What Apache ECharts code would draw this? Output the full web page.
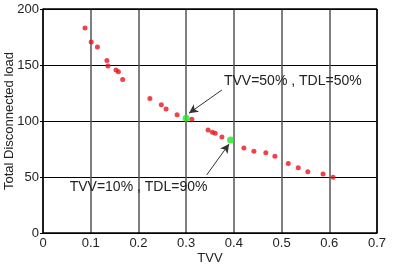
<!DOCTYPE html>
<html>
<head>
<meta charset="utf-8">
<script src="https://cdn.jsdelivr.net/npm/echarts@6/dist/echarts.min.js"></script>
<style>
  html, body { margin: 0; padding: 0; background: #fff; }
  #chart { width: 397px; height: 268px; }
</style>
</head>
<body>
<div id="chart"></div>
<script>
// red points (TVV, total disconnected load)
const tvv = [0.088, 0.101, 0.114, 0.134, 0.136, 0.153, 0.158, 0.167, 0.224, 0.248, 0.258, 0.281,
  0.312, 0.346, 0.355, 0.361, 0.375, 0.421, 0.442, 0.467, 0.486, 0.514, 0.535, 0.555, 0.587, 0.608];
const load = [183, 170.5, 166, 154, 149, 145.5, 144, 137, 120, 114.6, 110.7, 105.6,
  101.5, 92, 90, 89, 85.7, 76, 73, 71.7, 68.5, 62, 58.3, 54.7, 52.7, 49.7];

// highlighted points
const highlightX = [0.300, 0.393];
const highlightY = [102.4, 83];

// annotation arrows: [from, to] in data units
const arrows = [
  [[0.375, 127.7], [0.306, 107]],
  [[0.343, 51.8], [0.390, 79.5]]
];
const notes = ["TVV=50% , TDL=50%", "TVV=10% , TDL=90%"];

const font = "Liberation Sans, Arial, sans-serif";

const chart = echarts.init(document.getElementById("chart"));

const option = {
  animation: false,
  grid: { left: 43, right: 20, top: 9, bottom: 35, outerBoundsMode: "none", containLabel: false },
  xAxis: {
    type: "value",
    min: 0, max: 0.7, interval: 0.1,
    name: "TVV",
    nameLocation: "middle",
    nameGap: 19,
    nameMoveOverlap: false,
    nameTextStyle: { color: "#222", fontSize: 13, fontFamily: font },
    axisLine: { show: true, lineStyle: { color: "#000", width: 1.5 } },
    axisTick: { show: false },
    axisLabel: { color: "#222", fontSize: 13, fontFamily: font, margin: 4 },
    splitLine: { show: true, lineStyle: { color: "#555", width: 1.5 } }
  },
  yAxis: {
    type: "value",
    min: 0, max: 200, interval: 50,
    name: "Total Disconnected load",
    nameLocation: "middle",
    nameGap: 27,
    nameMoveOverlap: false,
    nameTextStyle: { color: "#222", fontSize: 13, fontFamily: font },
    axisLine: { show: true, lineStyle: { color: "#000", width: 1.5 } },
    axisTick: { show: true, length: 3, lineStyle: { color: "#000" } },
    axisLabel: { color: "#222", fontSize: 13, fontFamily: font, margin: 4 },
    splitLine: { show: true, lineStyle: { color: "#000", width: 1 } }
  },
  series: [
    {
      type: "scatter",
      data: tvv.map((x, i) => [x, load[i]]),
      symbolSize: 5,
      itemStyle: { color: "#e8141c" },
      markLine: {
        silent: true,
        symbol: ["none", "arrow"],
        symbolSize: [7, 9],
        lineStyle: { color: "#333", width: 1, type: "solid" },
        label: { show: false },
        data: arrows.map(a => [{ coord: a[0] }, { coord: a[1] }])
      }
    },
    {
      type: "scatter",
      data: highlightX.map((x, i) => [x, highlightY[i]]),
      symbolSize: 7,
      itemStyle: { color: "#22e822" },
      z: 3
    },
    {
      // box around plot (top/right edges)
      type: "line",
      data: [],
      markLine: {
        silent: true,
        symbol: "none",
        lineStyle: { color: "#000", width: 1.5, type: "solid" },
        label: { show: false },
        data: [
          [{ coord: [0, 200] }, { coord: [0.7, 200] }],
          [{ coord: [0.7, 0] }, { coord: [0.7, 200] }]
        ]
      }
    }
  ]
};

chart.setOption(option);

// place notes next to the arrows, through the chart's own scales
const p1 = chart.convertToPixel({ gridIndex: 0 }, [0.375, 127.7]);
const p2 = chart.convertToPixel({ gridIndex: 0 }, [0.343, 51.8]);
chart.setOption({
  graphic: [
    {
      type: "text", left: p1[0] + 2, top: p1[1] - 16,
      style: { text: notes[0], fill: "#222", font: "14px " + font }
    },
    {
      type: "text", left: p2[0] - 137, top: p2[1] + 5,
      style: { text: notes[1], fill: "#222", font: "14px " + font }
    }
  ]
});

window.addEventListener("resize", () => chart.resize());
</script>
</body>
</html>
